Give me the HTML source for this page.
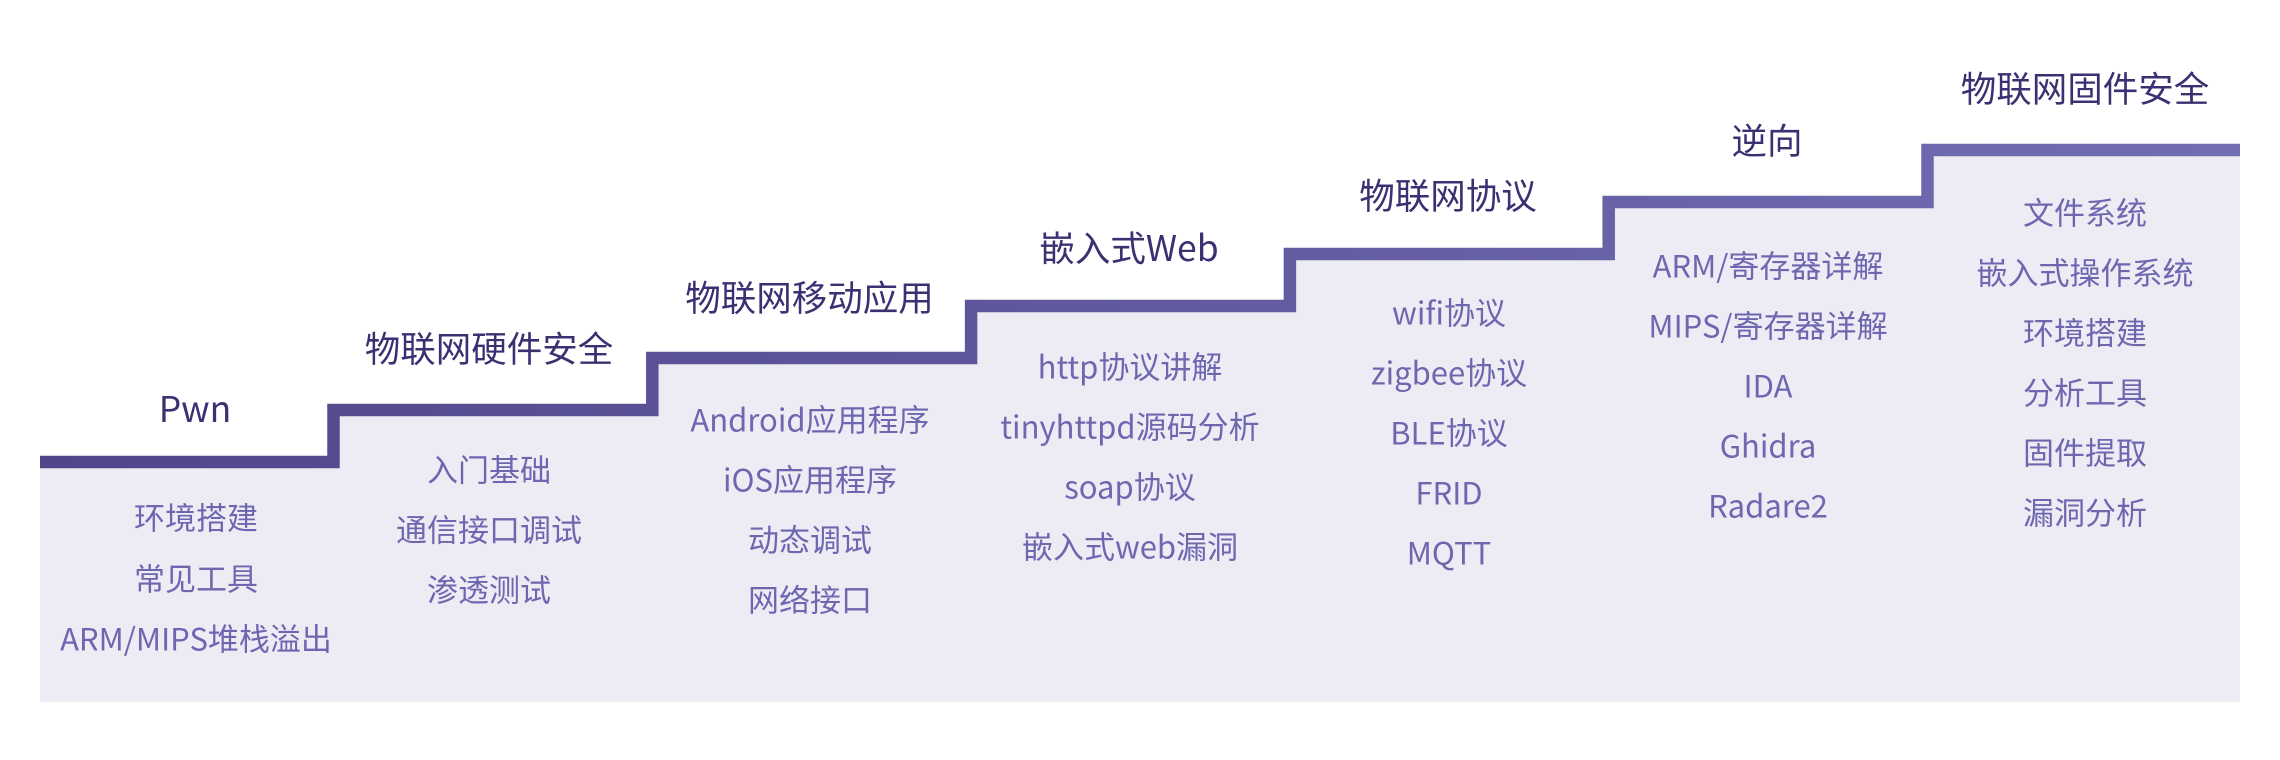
<!DOCTYPE html>
<html>
<head>
<meta charset="utf-8">
<style>
  html, body { margin: 0; padding: 0; background: #ffffff; }
  body { width: 2280px; height: 760px; overflow: hidden; }
  svg { display: block; }
  .t { font-family: "Noto Sans CJK SC", "Liberation Sans", sans-serif; font-size: 35.5px; fill: #3b3172; text-anchor: middle; }
  .i { font-family: "Noto Sans CJK SC", "Liberation Sans", sans-serif; font-size: 31px; fill: #6e67b0; text-anchor: middle; }
</style>
</head>
<body>
<svg width="2280" height="760" viewBox="0 0 2280 760" xmlns="http://www.w3.org/2000/svg">
  <defs>
    <linearGradient id="g" gradientUnits="userSpaceOnUse" x1="40" y1="0" x2="2240" y2="0">
      <stop offset="0" stop-color="#50468a"/>
      <stop offset="1" stop-color="#726db3"/>
    </linearGradient>
  </defs>
  <rect width="2280" height="760" fill="#ffffff"/>
  <polygon fill="#edecf5" points="40,462 333.5,462 333.5,410 652.3,410 652.3,358 971.1,358 971.1,306 1289.9,306 1289.9,254 1608.7,254 1608.7,202 1927.5,202 1927.5,150 2240,150 2240,702 40,702"/>
  <path d="M40,462 H333.5 V410 H652.3 V358 H971.1 V306 H1289.9 V254 H1608.7 V202 H1927.5 V150 H2240" fill="none" stroke="url(#g)" stroke-width="12.5" stroke-linejoin="miter" stroke-linecap="butt"/>

  <!-- Titles -->
  <text class="t" x="195" y="422">Pwn</text>
  <text class="t" x="489" y="361.6">物联网硬件安全</text>
  <text class="t" x="809.5" y="310.6">物联网移动应用</text>
  <text class="t" x="1129" y="261">嵌入式Web</text>
  <text class="t" x="1448" y="208.6">物联网协议</text>
  <text class="t" x="1767" y="153.6">逆向</text>
  <text class="t" x="2085" y="101.6">物联网固件安全</text>

  <!-- Column 1 -->
  <text class="i" x="196" y="529.6">环境搭建</text>
  <text class="i" x="196" y="590.6">常见工具</text>
  <text class="i" x="196" y="650.6">ARM/MIPS堆栈溢出</text>

  <!-- Column 2 -->
  <text class="i" x="489" y="481.6">入门基础</text>
  <text class="i" x="489" y="541.6">通信接口调试</text>
  <text class="i" x="489" y="601.6">渗透测试</text>

  <!-- Column 3 -->
  <text class="i" x="810" y="431.6">Android应用程序</text>
  <text class="i" x="810" y="491.6">iOS应用程序</text>
  <text class="i" x="810" y="551.6">动态调试</text>
  <text class="i" x="810" y="611.6">网络接口</text>

  <!-- Column 4 -->
  <text class="i" x="1130" y="378.3">http协议讲解</text>
  <text class="i" x="1130" y="438.3">tinyhttpd源码分析</text>
  <text class="i" x="1130" y="498.3">soap协议</text>
  <text class="i" x="1130" y="558.3">嵌入式web漏洞</text>

  <!-- Column 5 -->
  <text class="i" x="1449" y="324.6">wifi协议</text>
  <text class="i" x="1449" y="384.6">zigbee协议</text>
  <text class="i" x="1449" y="444.6">BLE协议</text>
  <text class="i" x="1449" y="504.6">FRID</text>
  <text class="i" x="1449" y="564.6">MQTT</text>

  <!-- Column 6 -->
  <text class="i" x="1768" y="277.6">ARM/寄存器详解</text>
  <text class="i" x="1768" y="337.6">MIPS/寄存器详解</text>
  <text class="i" x="1768" y="397.6">IDA</text>
  <text class="i" x="1768" y="457.6">Ghidra</text>
  <text class="i" x="1768" y="517.6">Radare2</text>

  <!-- Column 7 -->
  <text class="i" x="2085" y="224.3">文件系统</text>
  <text class="i" x="2085" y="284.3">嵌入式操作系统</text>
  <text class="i" x="2085" y="344.3">环境搭建</text>
  <text class="i" x="2085" y="404.3">分析工具</text>
  <text class="i" x="2085" y="464.3">固件提取</text>
  <text class="i" x="2085" y="524.3">漏洞分析</text>
</svg>
</body>
</html>
